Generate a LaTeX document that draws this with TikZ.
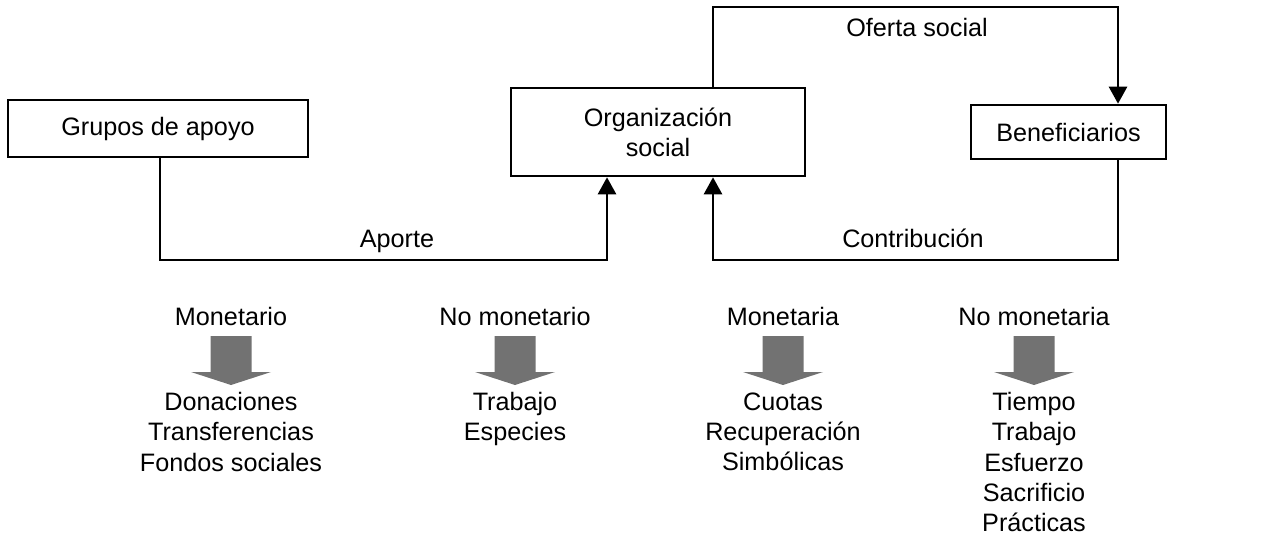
\documentclass[tikz,border=0pt]{standalone}
\usepackage{fontspec}
\setmainfont{Liberation Sans}
\usetikzlibrary{arrows.meta}
\definecolor{arrowgray}{HTML}{727272}
\tikzset{
  txt/.style={font=\fontsize{12.6}{15.1}\selectfont, inner sep=0pt, align=center},
  box/.style={draw, line width=1.3pt, txt},
  conn/.style={line width=1.3pt},
  tip/.style={-{Triangle[width=9pt,length=8.5pt]}},
  garrow/.pic={\fill[arrowgray] (-20.5,0) -- (20.5,0) -- (20.5,36) -- (40,36) -- (0,49) -- (-40,36) -- (-20.5,36) -- cycle;}
}
\begin{document}
\begin{tikzpicture}[x=0.5pt,y=-0.5pt]
\useasboundingbox (0,0) rectangle (1272,534);
% boxes
\node[box, minimum width=150pt, minimum height=28.5pt] (g) at (158,128.5) {Grupos de apoyo};
\node[box, minimum width=147pt, minimum height=44pt] (o) at (658,132) {Organización\\social};
\node[box, minimum width=97.5pt, minimum height=27pt] (b) at (1068.5,132) {Beneficiarios};
% connectors
\coordinate (a1) at (607,260);
\coordinate (c1) at (713,260);
\coordinate (of1) at (713,7);
\coordinate (of2) at (1118,7);
\coordinate (c2) at (1118,260);
\draw[conn,tip] (g.south -| 160,0) |- (a1) -- (o.south -| a1);
\draw[conn,tip] (b.south -| c2) -- (c2) -- (c1) -- (o.south -| c1);
\draw[conn,tip] (o.north -| of1) -- (of1) -- (of2) -- (b.north -| of2);
% connector labels
\node[txt, anchor=base] (lo) at (917,37) {Oferta social};
\node[txt, anchor=base] (la) at (397,247) {Aporte};
\node[txt, anchor=base] (lc) at (913,247) {Contribución};
% categories
\node[txt, anchor=base] (h1) at (231,325) {Monetario};
\node[txt, anchor=base] (h2) at (515,325) {No monetario};
\node[txt, anchor=base] (h3) at (783,325) {Monetaria};
\node[txt, anchor=base] (h4) at (1034,325) {No monetaria};
\pic at (231,336) {garrow};
\pic at (515,336) {garrow};
\pic at (783,336) {garrow};
\pic at (1034,336) {garrow};
\node[txt, anchor=north] (l1) at (231,392) {Donaciones\\Transferencias\\Fondos sociales};
\node[txt, anchor=north] (l2) at (515,392) {Trabajo\\Especies};
\node[txt, anchor=north] (l3) at (783,392) {Cuotas\\Recuperación\\Simbólicas};
\node[txt, anchor=north] (l4) at (1034,392) {Tiempo\\Trabajo\\Esfuerzo\\Sacrificio\\Prácticas};
\end{tikzpicture}
\end{document}
